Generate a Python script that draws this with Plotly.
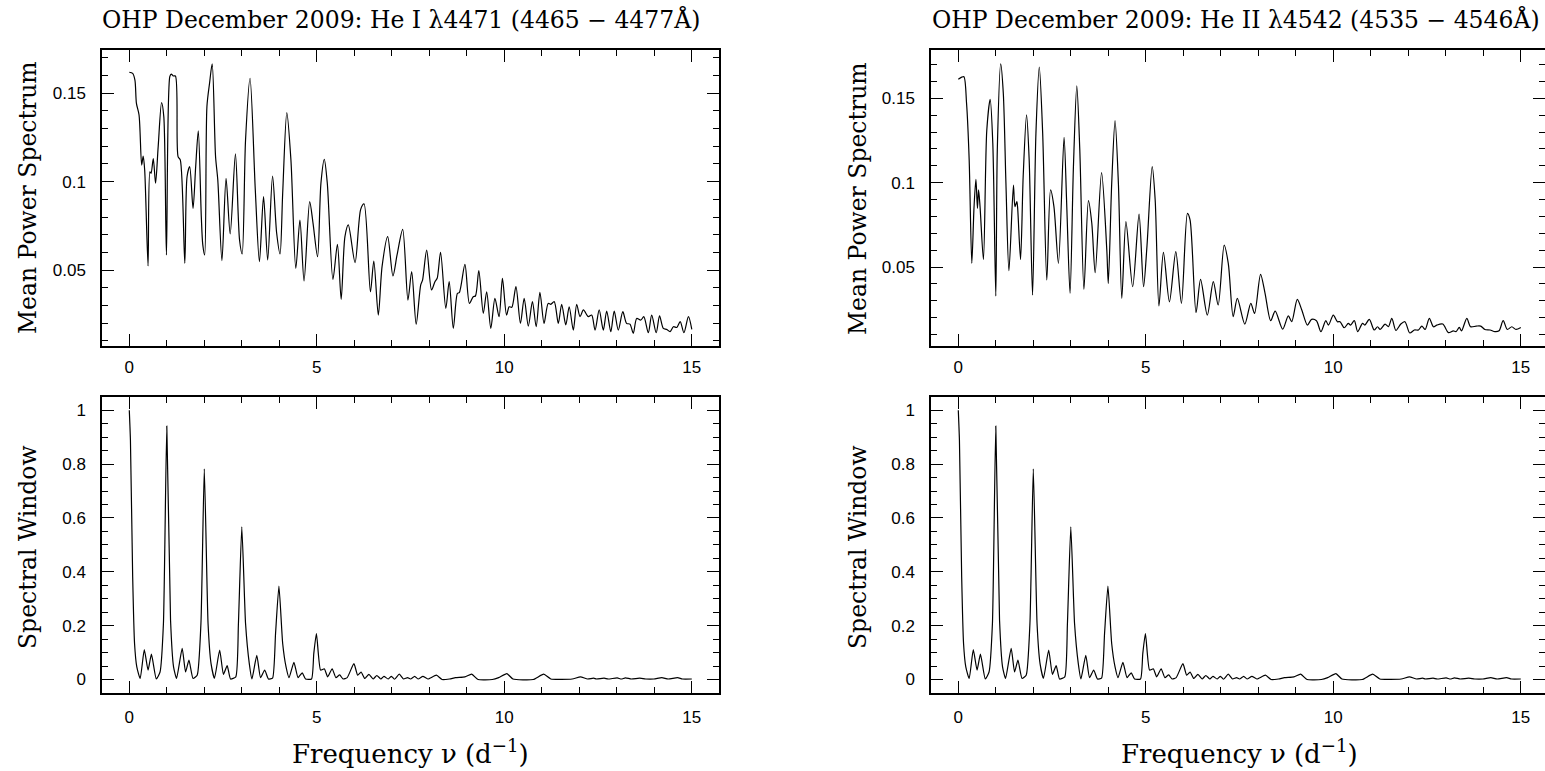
import plotly.graph_objects as go

# ---------------- data ----------------
# He I 4471 mean power spectrum
hei_freq = [0.00, 0.09, 0.15, 0.19, 0.26, 0.33, 0.37, 0.41, 0.50, 0.55,
            0.58, 0.64, 0.70, 0.77, 0.86, 0.92, 0.99, 1.08, 1.12, 1.17,
            1.23, 1.30, 1.36, 1.48, 1.54, 1.61, 1.70, 1.77, 1.84, 1.92,
            1.96, 2.01, 2.07, 2.14, 2.21, 2.30, 2.36, 2.47, 2.58, 2.69,
            2.83, 2.94, 3.01, 3.10, 3.22, 3.36, 3.47, 3.58, 3.69, 3.82,
            3.93, 4.02, 4.09, 4.20, 4.31, 4.44, 4.55, 4.66, 4.81, 4.90,
            5.02, 5.11, 5.20, 5.28, 5.43, 5.55, 5.65, 5.75, 5.84, 6.02,
            6.17, 6.26, 6.43, 6.52, 6.64, 6.74, 6.89, 7.03, 7.14, 7.29,
            7.43, 7.53, 7.65, 7.77, 7.82, 7.93, 8.06, 8.15, 8.21, 8.30,
            8.44, 8.53, 8.64, 8.75, 8.80, 8.95, 9.07, 9.17, 9.23, 9.32,
            9.44, 9.53, 9.64, 9.75, 9.86, 9.95, 10.06, 10.13, 10.20, 10.31,
            10.43, 10.53, 10.64, 10.75, 10.85, 10.95, 11.06, 11.17, 11.24, 11.33,
            11.44, 11.53, 11.64, 11.73, 11.84, 11.93, 12.02, 12.11, 12.24, 12.33,
            12.42, 12.53, 12.64, 12.73, 12.84, 12.93, 13.04, 13.16, 13.26, 13.35,
            13.44, 13.53, 13.64, 13.72, 13.84, 13.93, 14.05, 14.14, 14.24, 14.33,
            14.42, 14.51, 14.60, 14.69, 14.79, 14.91, 15.00]
hei_power = [0.1619, 0.1613, 0.1575, 0.1443, 0.1377, 0.1094, 0.1145, 0.1066, 0.0523, 0.1056,
             0.1047, 0.1130, 0.0991, 0.1198, 0.1447, 0.1368, 0.0585, 0.1594, 0.1609, 0.1598,
             0.1598, 0.1142, 0.1123, 0.0538, 0.1028, 0.1085, 0.0849, 0.1085, 0.1287, 0.0802,
             0.0642, 0.0585, 0.1425, 0.1557, 0.1666, 0.1142, 0.1009, 0.0553, 0.1019, 0.0704,
             0.1157, 0.0670, 0.0591, 0.1236, 0.1585, 0.0953, 0.0547, 0.0915, 0.0557, 0.1032,
             0.0708, 0.0591, 0.0934, 0.1391, 0.1123, 0.0509, 0.0783, 0.0438, 0.0887, 0.0764,
             0.0575, 0.0991, 0.1126, 0.0991, 0.0447, 0.0645, 0.0334, 0.0689, 0.0755, 0.0542,
             0.0843, 0.0874, 0.0377, 0.0551, 0.0245, 0.0519, 0.0689, 0.0466, 0.0585, 0.0730,
             0.0330, 0.0491, 0.0193, 0.0415, 0.0443, 0.0613, 0.0387, 0.0434, 0.0453, 0.0600,
             0.0283, 0.0434, 0.0170, 0.0368, 0.0372, 0.0532, 0.0311, 0.0349, 0.0353, 0.0496,
             0.0255, 0.0377, 0.0170, 0.0340, 0.0236, 0.0453, 0.0245, 0.0292, 0.0289, 0.0406,
             0.0198, 0.0340, 0.0183, 0.0321, 0.0179, 0.0374, 0.0198, 0.0311, 0.0306, 0.0321,
             0.0198, 0.0306, 0.0189, 0.0292, 0.0160, 0.0306, 0.0236, 0.0274, 0.0236, 0.0245,
             0.0160, 0.0274, 0.0160, 0.0268, 0.0151, 0.0268, 0.0160, 0.0264, 0.0198, 0.0194,
             0.0142, 0.0226, 0.0217, 0.0236, 0.0145, 0.0245, 0.0145, 0.0240, 0.0170, 0.0164,
             0.0151, 0.0179, 0.0175, 0.0208, 0.0145, 0.0236, 0.0164]

# He II 4542 mean power spectrum
heii_freq = [0.00, 0.09, 0.15, 0.22, 0.29, 0.36, 0.42, 0.47, 0.51, 0.54,
             0.58, 0.67, 0.76, 0.85, 0.92, 1.00, 1.04, 1.13, 1.20, 1.27,
             1.35, 1.47, 1.51, 1.56, 1.58, 1.66, 1.73, 1.82, 1.89, 1.98,
             2.07, 2.16, 2.25, 2.36, 2.46, 2.55, 2.67, 2.82, 2.89, 2.98,
             3.07, 3.16, 3.24, 3.35, 3.47, 3.56, 3.65, 3.82, 3.96, 4.00,
             4.09, 4.18, 4.27, 4.36, 4.47, 4.65, 4.82, 4.94, 5.03, 5.17,
             5.25, 5.35, 5.47, 5.63, 5.80, 5.95, 6.11, 6.18, 6.34, 6.46,
             6.64, 6.80, 6.93, 7.09, 7.20, 7.33, 7.44, 7.64, 7.80, 7.90,
             8.06, 8.18, 8.33, 8.45, 8.65, 8.80, 8.89, 9.04, 9.16, 9.31,
             9.42, 9.55, 9.67, 9.80, 9.87, 10.00, 10.11, 10.18, 10.29, 10.40,
             10.46, 10.56, 10.65, 10.78, 10.84, 10.96, 11.09, 11.18, 11.25, 11.38,
             11.47, 11.56, 11.67, 11.80, 11.91, 12.04, 12.16, 12.27, 12.36, 12.45,
             12.56, 12.67, 12.76, 12.92, 13.07, 13.20, 13.27, 13.36, 13.42, 13.56,
             13.66, 13.81, 13.93, 14.04, 14.18, 14.31, 14.42, 14.53, 14.64, 14.76,
             14.87, 15.00]
heii_power = [0.1613, 0.1625, 0.1628, 0.1470, 0.1134, 0.0522, 0.0858, 0.1020, 0.0848, 0.0957,
              0.0858, 0.0545, 0.1312, 0.1494, 0.1233, 0.0328, 0.1194, 0.1704, 0.1530, 0.0996,
              0.0478, 0.0986, 0.0858, 0.0887, 0.0858, 0.0545, 0.1036, 0.1401, 0.1134, 0.0334,
              0.1292, 0.1684, 0.1292, 0.0423, 0.0957, 0.0858, 0.0522, 0.1269, 0.0877, 0.0344,
              0.1095, 0.1573, 0.1194, 0.0368, 0.0893, 0.0759, 0.0466, 0.1059, 0.0601, 0.0403,
              0.0991, 0.1368, 0.0991, 0.0314, 0.0769, 0.0383, 0.0814, 0.0383, 0.0620, 0.1095,
              0.0897, 0.0269, 0.0587, 0.0294, 0.0591, 0.0285, 0.0818, 0.0779, 0.0229, 0.0427,
              0.0215, 0.0413, 0.0275, 0.0630, 0.0520, 0.0206, 0.0314, 0.0162, 0.0285, 0.0225,
              0.0457, 0.0344, 0.0182, 0.0239, 0.0132, 0.0211, 0.0176, 0.0308, 0.0245, 0.0156,
              0.0190, 0.0182, 0.0117, 0.0182, 0.0156, 0.0215, 0.0176, 0.0176, 0.0140, 0.0166,
              0.0156, 0.0182, 0.0117, 0.0166, 0.0156, 0.0190, 0.0127, 0.0146, 0.0130, 0.0162,
              0.0146, 0.0196, 0.0124, 0.0162, 0.0176, 0.0109, 0.0127, 0.0127, 0.0150, 0.0130,
              0.0196, 0.0146, 0.0156, 0.0162, 0.0111, 0.0122, 0.0117, 0.0142, 0.0122, 0.0196,
              0.0146, 0.0150, 0.0150, 0.0130, 0.0127, 0.0117, 0.0122, 0.0182, 0.0130, 0.0146,
              0.0130, 0.0142]

# Spectral window (same sampling for both lines)
window_freq = [0.00, 0.03, 0.09, 0.14, 0.20, 0.29, 0.40, 0.50, 0.59, 0.72,
               0.82, 0.91, 1.00, 1.10, 1.18, 1.26, 1.41, 1.50, 1.59, 1.70,
               1.81, 1.91, 2.00, 2.10, 2.18, 2.27, 2.41, 2.51, 2.61, 2.70,
               2.84, 2.91, 3.00, 3.10, 3.20, 3.27, 3.40, 3.50, 3.61, 3.71,
               3.82, 3.90, 3.99, 4.09, 4.18, 4.26, 4.39, 4.50, 4.61, 4.70,
               4.86, 4.92, 4.99, 5.10, 5.20, 5.29, 5.41, 5.51, 5.61, 5.70,
               5.81, 5.99, 6.09, 6.18, 6.28, 6.39, 6.50, 6.60, 6.71, 6.79,
               6.90, 6.99, 7.07, 7.20, 7.31, 7.42, 7.50, 7.61, 7.70, 7.83,
               7.96, 8.19, 8.34, 8.54, 8.70, 8.95, 9.13, 9.30, 9.68, 9.85,
               10.07, 10.23, 10.77, 11.05, 11.24, 11.81, 12.03, 12.22, 12.38, 12.46,
               12.66, 12.77, 13.01, 13.12, 13.23, 13.39, 13.61, 13.77, 13.99, 14.20,
               14.37, 14.62, 14.75, 15.00]
window_power = [1.000, 0.889, 0.381, 0.134, 0.047, 0.004, 0.111, 0.035, 0.094, 0.002,
                0.028, 0.208, 0.941, 0.220, 0.047, 0.004, 0.116, 0.028, 0.072, 0.004,
                0.016, 0.208, 0.782, 0.208, 0.059, 0.004, 0.109, 0.019, 0.052, 0.002,
                0.010, 0.208, 0.567, 0.208, 0.059, 0.002, 0.090, 0.007, 0.035, 0.002,
                0.005, 0.171, 0.347, 0.134, 0.047, 0.007, 0.064, 0.007, 0.025, 0.002,
                0.002, 0.097, 0.171, 0.035, 0.040, 0.010, 0.040, 0.007, 0.017, 0.002,
                0.007, 0.059, 0.016, 0.028, 0.004, 0.019, 0.002, 0.015, 0.002, 0.012,
                0.002, 0.012, 0.001, 0.020, 0.002, 0.007, 0.002, 0.012, 0.002, 0.012,
                0.002, 0.016, 0.000, 0.002, 0.007, 0.010, 0.020, 0.000, 0.000, 0.007,
                0.022, 0.002, 0.000, 0.020, 0.002, 0.002, 0.010, 0.002, 0.005, 0.002,
                0.005, 0.002, 0.006, 0.002, 0.006, 0.002, 0.005, 0.002, 0.002, 0.007,
                0.002, 0.007, 0.002, 0.002]

titles = ["OHP December 2009: He I λ4471 (4465 − 4477Å)",
          "OHP December 2009: He II λ4542 (4535 − 4546Å)"]
ylabels = ["Mean Power Spectrum", "Spectral Window"]
xlabel = "Frequency ν (d<sup>−1</sup>)"

# ---------------- layout geometry (pixels) ----------------
W, H = 1545, 771


def fx(p):
    return p / W


def fy(p):
    return 1 - p / H


LEFT_X = [fx(102), fx(719)]
RIGHT_X = [fx(931), 1.0]
TOP_Y = [fy(346), fy(50)]
BOT_Y = [fy(693), fy(397)]

LEFT_XRANGE = [-0.728, 15.725]
RIGHT_XRANGE = [-0.728, 15.645]
TL_YRANGE = [0.007, 0.1745]
TR_YRANGE = [0.0032, 0.1786]
B_YRANGE = [-0.050, 1.049]

SERIF = "DejaVu Serif, Liberation Serif, serif"
SANS = "Liberation Sans, Arial, Helvetica, sans-serif"
tickfont = dict(family=SANS, size=17, color="black")

line_style = dict(color="black", width=1.2, shape="spline", smoothing=0.8)
window_style = dict(color="black", width=1.2, shape="spline", smoothing=0.5)

fig = go.Figure()
fig.add_trace(go.Scatter(x=hei_freq, y=hei_power, xaxis="x", yaxis="y",
                         mode="lines", line=line_style, showlegend=False))
fig.add_trace(go.Scatter(x=heii_freq, y=heii_power, xaxis="x2", yaxis="y2",
                         mode="lines", line=line_style, showlegend=False))
fig.add_trace(go.Scatter(x=window_freq, y=window_power, xaxis="x3", yaxis="y3",
                         mode="lines", line=window_style, showlegend=False))
fig.add_trace(go.Scatter(x=window_freq, y=window_power, xaxis="x4", yaxis="y4",
                         mode="lines", line=window_style, showlegend=False))
# empty traces so that the right-hand tick-only axes get drawn
fig.add_trace(go.Scatter(x=[], y=[], xaxis="x2", yaxis="y5", showlegend=False, hoverinfo="skip"))
fig.add_trace(go.Scatter(x=[], y=[], xaxis="x4", yaxis="y6", showlegend=False, hoverinfo="skip"))

minor_x = dict(ticks="inside", ticklen=6, dtick=1, tick0=0, tickcolor="black", tickwidth=1)


def xaxis(domain, rng, anchor, standoff):
    return dict(domain=domain, range=rng, anchor=anchor, showline=True, linecolor="black",
                linewidth=1.5, mirror="ticks", ticks="inside", ticklen=12, tickwidth=1,
                tickcolor="black", tick0=0, dtick=5, minor=minor_x, showgrid=False,
                zeroline=False, tickfont=tickfont, ticklabelstandoff=standoff)


def yaxis(domain, rng, anchor, dtick, mdtick, mirror="ticks", showline=True, labels=True, side="left",
          overlaying=None):
    d = dict(domain=domain, range=rng, anchor=anchor, showline=showline, linecolor="black",
             linewidth=1.5, mirror=mirror, ticks="inside", ticklen=12, tickwidth=1,
             tickcolor="black", tick0=0, dtick=dtick,
             minor=dict(ticks="inside", ticklen=6, dtick=mdtick, tick0=0, tickcolor="black", tickwidth=1),
             showgrid=False, zeroline=False, tickfont=tickfont, showticklabels=labels,
             side=side, ticklabelstandoff=11)
    if overlaying:
        d["overlaying"] = overlaying
    return d


fig.update_layout(
    width=W, height=H, margin=dict(l=0, r=0, t=0, b=0),
    paper_bgcolor="white", plot_bgcolor="white", showlegend=False,
    xaxis=xaxis(LEFT_X, LEFT_XRANGE, "y", 5),
    yaxis=yaxis(TOP_Y, TL_YRANGE, "x", 0.05, 0.01),
    xaxis2=xaxis(RIGHT_X, RIGHT_XRANGE, "y2", 5),
    yaxis2=yaxis(TOP_Y, TR_YRANGE, "x2", 0.05, 0.01, mirror=False),
    xaxis3=xaxis(LEFT_X, LEFT_XRANGE, "y3", 8),
    yaxis3=yaxis(BOT_Y, B_YRANGE, "x3", 0.2, 0.05),
    xaxis4=xaxis(RIGHT_X, RIGHT_XRANGE, "y4", 8),
    yaxis4=yaxis(BOT_Y, B_YRANGE, "x4", 0.2, 0.05, mirror=False),
    yaxis5=yaxis(TOP_Y, TR_YRANGE, "x2", 0.05, 0.01, mirror=False, showline=False,
                 labels=False, side="right", overlaying="y2"),
    yaxis6=yaxis(BOT_Y, B_YRANGE, "x4", 0.2, 0.05, mirror=False, showline=False,
                 labels=False, side="right", overlaying="y4"),
)

annotations = []
# panel titles
for x0, t in zip([100, 930], titles):
    annotations.append(dict(text=t, x=fx(x0), y=fy(19), xref="paper", yref="paper",
                            xanchor="left", yanchor="middle", showarrow=False,
                            font=dict(family=SERIF, size=23.5, color="black")))
# y labels
for xc in [28, 858]:
    for yc, lab in zip([198, 547], ylabels):
        annotations.append(dict(text=lab, x=fx(xc), y=fy(yc), xref="paper", yref="paper",
                                xanchor="center", yanchor="middle", textangle=-90, showarrow=False,
                                font=dict(family=SERIF, size=23.5, color="black")))
# x labels
for xc in [410.5, 1239.5]:
    annotations.append(dict(text=xlabel, x=fx(xc), y=fy(752), xref="paper", yref="paper",
                            xanchor="center", yanchor="middle", showarrow=False,
                            font=dict(family=SERIF, size=26, color="black")))
fig.update_layout(annotations=annotations)

fig.write_html("out.html")
